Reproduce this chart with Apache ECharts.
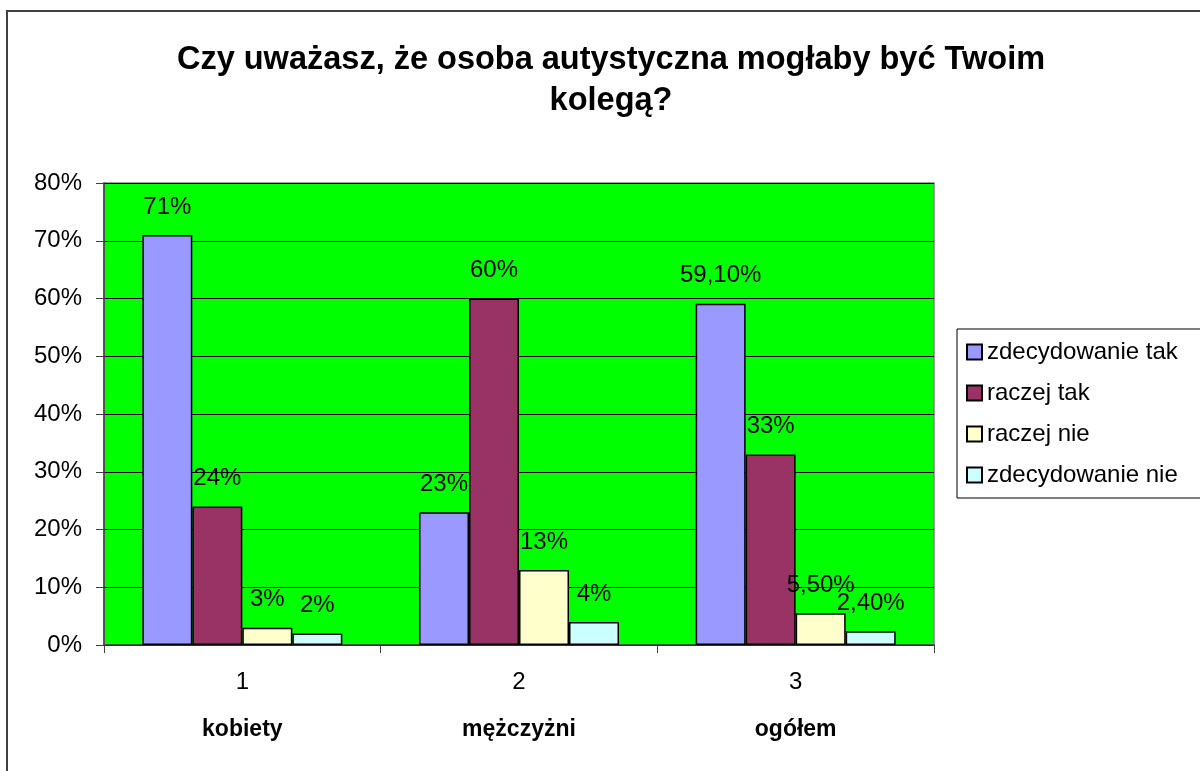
<!DOCTYPE html>
<html>
<head>
<meta charset="utf-8">
<script src="https://cdn.jsdelivr.net/npm/echarts@6/dist/echarts.min.js"></script>
<style>
html,body{margin:0;padding:0;background:#fff;}
#chart{width:1200px;height:771px;}
</style>
</head>
<body>
<div id="chart"></div>
<script>
var categories = ['1', '2', '3'];
var groupNames = ['kobiety', 'mężczyżni', 'ogółem'];
var seriesNames = ['zdecydowanie tak', 'raczej tak', 'raczej nie', 'zdecydowanie nie'];
var zdecydowanieTak = [71, 23, 59.1];
var raczejTak = [24, 60, 33];
var raczejNie = [3, 13, 5.5];
var zdecydowanieNie = [2, 4, 2.4];
var yTicks = [0, 10, 20, 30, 40, 50, 60, 70, 80];
var colors = ['#9999FF', '#993366', '#FFFFCC', '#CCFFFF'];

var FONT = "'Liberation Sans', Arial, sans-serif";
function fmt(v) {
  return Number.isInteger(v) ? v + '%' : v.toFixed(2).replace('.', ',') + '%';
}
var allData = [zdecydowanieTak, raczejTak, raczejNie, zdecydowanieNie];
var series = seriesNames.map(function (name, i) {
  return {
    name: name,
    type: 'bar',
    data: allData[i],
    barGap: '0%',
    barCategoryGap: '27.7%',
    itemStyle: { color: colors[i], borderColor: '#000', borderWidth: 1.5 },
    label: {
      show: true, position: 'top', distance: 16,
      fontFamily: FONT, fontSize: 24, color: '#000',
      formatter: function (p) { return fmt(p.value); }
    },
    emphasis: { disabled: true }
  };
});

var chart = echarts.init(document.getElementById('chart'));
chart.setOption({
  animation: false,
  backgroundColor: '#fff',
  title: {
    text: 'Czy uważasz, że osoba autystyczna mogłaby być Twoim\nkolegą?',
    left: 611,
    textAlign: 'center',
    top: 40,
    padding: 0,
    textStyle: { fontFamily: FONT, fontSize: 32.5, fontWeight: 'bold', color: '#000', lineHeight: 41 }
  },
  legend: {
    orient: 'vertical',
    left: 957,
    top: 329,
    padding: [11, 40, 11, 9],
    itemWidth: 15,
    itemHeight: 15,
    itemGap: 17,
    icon: 'rect',
    borderColor: '#000',
    borderWidth: 1,
    textStyle: { fontFamily: FONT, fontSize: 24, color: '#000' },
    data: seriesNames
  },
  grid: {
    left: 104, right: 266, top: 183, bottom: 126,
    show: true, backgroundColor: '#00FF00', borderColor: '#808080', borderWidth: 1.5
  },
  xAxis: {
    type: 'category',
    data: categories,
    axisLine: { lineStyle: { color: '#404040', width: 1.5 } },
    axisTick: { show: true, length: 8, lineStyle: { color: '#404040' } },
    axisLabel: {
      margin: 14,
      formatter: function (v, idx) { return '{n|' + v + '}\n{b|' + groupNames[idx] + '}'; },
      rich: {
        n: { fontFamily: FONT, fontSize: 24, color: '#000', lineHeight: 47 },
        b: { fontFamily: FONT, fontSize: 23, fontWeight: 'bold', color: '#000', lineHeight: 47 }
      }
    }
  },
  yAxis: {
    type: 'value',
    min: yTicks[0],
    max: yTicks[yTicks.length - 1],
    interval: 10,
    axisLine: { show: true, lineStyle: { color: '#404040', width: 1.5 } },
    axisTick: { show: true, length: 8, lineStyle: { color: '#404040' } },
    axisLabel: { margin: 22, fontFamily: FONT, fontSize: 24, color: '#000', formatter: '{value}%' },
    splitLine: { lineStyle: { color: '#000', width: 1 } }
  },
  graphic: [{
    type: 'rect', z: 100, silent: true,
    shape: { x: 7, y: 11, width: 1400, height: 1000 },
    style: { fill: 'none', stroke: '#404040', lineWidth: 2 }
  }],
  series: series
});
</script>
</body>
</html>
